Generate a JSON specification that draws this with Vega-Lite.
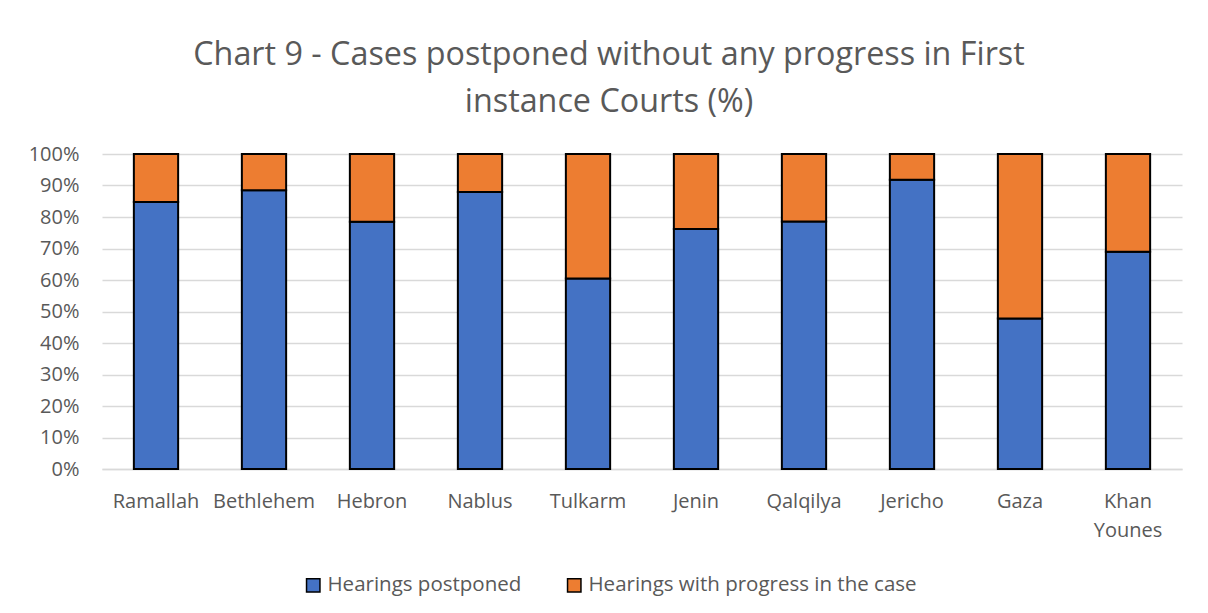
{
  "$schema": "https://vega.github.io/schema/vega-lite/v6.json",
  "autosize": {"type": "none"},
  "width": 1080,
  "height": 315,
  "padding": {"left": 102, "top": 154, "right": 26, "bottom": 144},
  "background": "white",
  "title": {
    "text": ["Chart 9 - Cases postponed without any progress in First", "instance Courts (%)"],
    "font": "Open Sans",
    "fontSize": 32.3,
    "fontWeight": "normal",
    "color": "#595959",
    "anchor": "middle",
    "dx": -33,
    "offset": 26,
    "lineHeight": 47
  },
  "data": {
    "values": [
      {"court": "Ramallah", "series": "Hearings postponed", "ord": 1, "value": 0.848},
      {"court": "Ramallah", "series": "Hearings with progress in the case", "ord": 2, "value": 0.152},
      {"court": "Bethlehem", "series": "Hearings postponed", "ord": 1, "value": 0.885},
      {"court": "Bethlehem", "series": "Hearings with progress in the case", "ord": 2, "value": 0.115},
      {"court": "Hebron", "series": "Hearings postponed", "ord": 1, "value": 0.785},
      {"court": "Hebron", "series": "Hearings with progress in the case", "ord": 2, "value": 0.215},
      {"court": "Nablus", "series": "Hearings postponed", "ord": 1, "value": 0.879},
      {"court": "Nablus", "series": "Hearings with progress in the case", "ord": 2, "value": 0.121},
      {"court": "Tulkarm", "series": "Hearings postponed", "ord": 1, "value": 0.605},
      {"court": "Tulkarm", "series": "Hearings with progress in the case", "ord": 2, "value": 0.395},
      {"court": "Jenin", "series": "Hearings postponed", "ord": 1, "value": 0.762},
      {"court": "Jenin", "series": "Hearings with progress in the case", "ord": 2, "value": 0.238},
      {"court": "Qalqilya", "series": "Hearings postponed", "ord": 1, "value": 0.786},
      {"court": "Qalqilya", "series": "Hearings with progress in the case", "ord": 2, "value": 0.214},
      {"court": "Jericho", "series": "Hearings postponed", "ord": 1, "value": 0.918},
      {"court": "Jericho", "series": "Hearings with progress in the case", "ord": 2, "value": 0.082},
      {"court": "Gaza", "series": "Hearings postponed", "ord": 1, "value": 0.478},
      {"court": "Gaza", "series": "Hearings with progress in the case", "ord": 2, "value": 0.522},
      {"court": "Khan Younes", "series": "Hearings postponed", "ord": 1, "value": 0.69},
      {"court": "Khan Younes", "series": "Hearings with progress in the case", "ord": 2, "value": 0.31}
    ]
  },
  "mark": {"type": "bar", "stroke": "#000000", "strokeWidth": 2},
  "encoding": {
    "x": {
      "field": "court",
      "type": "nominal",
      "sort": null,
      "scale": {"paddingInner": 0.59, "paddingOuter": 0.295},
      "axis": {
        "title": null,
        "labelAngle": 0,
        "ticks": false,
        "tickSize": 0,
        "labelPadding": 22,
        "labelFont": "Open Sans",
        "labelFontSize": 20,
        "labelColor": "#595959",
        "labelLineHeight": 29,
        "labelExpr": "datum.label == 'Khan Younes' ? ['Khan', 'Younes'] : datum.label",
        "domainColor": "#d9d9d9",
        "domainWidth": 1.5
      }
    },
    "y": {
      "field": "value",
      "type": "quantitative",
      "stack": "zero",
      "scale": {"domain": [0, 1], "nice": false},
      "axis": {
        "title": null,
        "values": [0, 0.1, 0.2, 0.3, 0.4, 0.5, 0.6, 0.7, 0.8, 0.9, 1],
        "format": ".0%",
        "domain": false,
        "ticks": false,
        "tickSize": 0,
        "labelPadding": 23,
        "labelFont": "Open Sans",
        "labelFontSize": 20,
        "labelColor": "#595959",
        "gridColor": "#d9d9d9",
        "gridWidth": 1.5
      }
    },
    "color": {
      "field": "series",
      "type": "nominal",
      "scale": {
        "domain": ["Hearings postponed", "Hearings with progress in the case"],
        "range": ["#4472C4", "#ED7D31"]
      },
      "legend": {
        "title": null,
        "orient": "none",
        "direction": "horizontal",
        "legendX": 201,
        "legendY": 421,
        "symbolType": "square",
        "symbolSize": 180,
        "symbolStrokeColor": "#000000",
        "symbolStrokeWidth": 1.5,
        "symbolOpacity": 1,
        "labelFont": "Open Sans",
        "labelFontSize": 20.5,
        "labelColor": "#595959",
        "labelOffset": 4,
        "columnPadding": 42,
        "labelLimit": 500
      }
    },
    "order": {"field": "ord", "type": "quantitative", "sort": "ascending"}
  },
  "config": {"view": {"stroke": null}}
}
